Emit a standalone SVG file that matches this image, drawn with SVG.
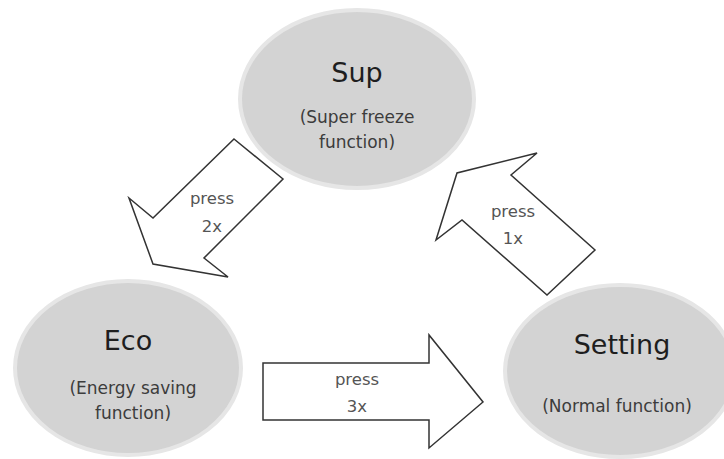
<svg xmlns="http://www.w3.org/2000/svg" width="724" height="459" viewBox="0 0 724 459">
<style>
.node{fill:#d3d3d3;stroke:#e6e6e6;stroke-width:4}
.title{font-family:"DejaVu Sans",Verdana,sans-serif;font-size:27px;fill:#1e1e1e;text-anchor:middle}
.sub{font-family:"DejaVu Sans",Verdana,sans-serif;font-size:17px;fill:#3c3c3c;text-anchor:middle}
.arrow{fill:#ffffff;stroke:#333333;stroke-width:1.5;stroke-linejoin:miter}
.lbl{font-family:"DejaVu Sans",Verdana,sans-serif;font-size:16.5px;fill:#555555;text-anchor:middle}
</style>
<rect width="724" height="459" fill="#ffffff"/>
<g id="sup">
<ellipse class="node" cx="357" cy="99" rx="117" ry="89"/>
<text class="title" x="357" y="82">Sup</text>
<text class="sub" x="357" y="123">(Super freeze</text>
<text class="sub" x="357" y="148">function)</text>
</g>
<g id="eco">
<ellipse class="node" cx="128" cy="368" rx="113" ry="87"/>
<text class="title" x="128" y="350">Eco</text>
<text class="sub" x="133" y="394">(Energy saving</text>
<text class="sub" x="133" y="419">function)</text>
</g>
<g id="setting">
<ellipse class="node" cx="620" cy="371" rx="115" ry="86"/>
<text class="title" x="622" y="354">Setting</text>
<text class="sub" x="617" y="412">(Normal function)</text>
</g>
<g id="connectors">
<g id="arrow-2x">
<polygon class="arrow" points="234,139 283,179 204,258 228,277 153,264 129,198 153,218"/>
<text class="lbl" x="212" y="204">press</text>
<text class="lbl" x="212" y="232">2x</text>
</g>
<g id="arrow-1x">
<polygon class="arrow" points="537,153 457,173 436,240 462,220 547,295 595,250 511,175"/>
<text class="lbl" x="513" y="217">press</text>
<text class="lbl" x="513" y="244">1x</text>
</g>
<g id="arrow-3x">
<polygon class="arrow" points="263,363 429,363 429,335 483,402 429,448 429,420 263,420"/>
<text class="lbl" x="357" y="385">press</text>
<text class="lbl" x="357" y="412">3x</text>
</g>
</g>
</svg>
